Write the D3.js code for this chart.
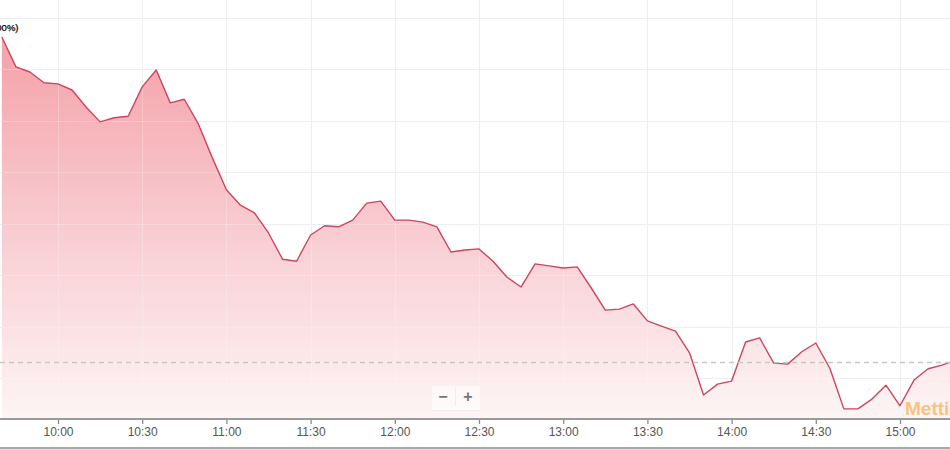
<!DOCTYPE html>
<html>
<head>
<meta charset="utf-8">
<script src="https://cdn.jsdelivr.net/npm/d3@7"></script>
<style>
  html, body { margin: 0; padding: 0; background: #fff; }
  svg { display: block; }
</style>
</head>
<body>
<svg id="chart" width="950" height="450"></svg>
<script>
// ---- Data (5-minute intraday index levels) ----
const times = ["09:40","09:45","09:50","09:55","10:00","10:05","10:10","10:15","10:20","10:25",
  "10:30","10:35","10:40","10:45","10:50","10:55","11:00","11:05","11:10","11:15",
  "11:20","11:25","11:30","11:35","11:40","11:45","11:50","11:55","12:00","12:05",
  "12:10","12:15","12:20","12:25","12:30","12:35","12:40","12:45","12:50","12:55",
  "13:00","13:05","13:10","13:15","13:20","13:25","13:30","13:35","13:40","13:45",
  "13:50","13:55","14:00","14:05","14:10","14:15","14:20","14:25","14:30","14:35",
  "14:40","14:45","14:50","14:55","15:00","15:05","15:10","15:15","15:20"];
const values = [22263,22205,22195,22174,22172,22160,22127,22098,22106,22109,
  22166,22199,22135,22142,22094,22028,21966,21936,21921,21882,
  21831,21827,21878,21896,21894,21907,21940,21944,21907,21907,
  21903,21894,21845,21849,21851,21827,21796,21777,21822,21818,
  21814,21816,21775,21732,21734,21744,21711,21701,21691,21649,
  21567,21588,21594,21670,21678,21629,21627,21651,21668,21619,
  21540,21540,21559,21586,21546,21596,21618,21625,21635];
const previousClose = 21631;
const xTickLabels = ["10:00","10:30","11:00","11:30","12:00","12:30","13:00","13:30","14:00","14:30","15:00"];
const yGridValues = [21600,21700,21800,21900,22000,22100,22200,22300];
const topLabel = "(+1.00%)";
const watermark = "Metti";

// ---- Setup ----
const W = 950, H = 450;
const axisY = 419;
const parse = d3.timeParse("%H:%M");
const data = times.map((t, i) => ({ t: parse(t), v: values[i] }));

const x = d3.scaleTime().domain([parse("10:00"), parse("15:00")]).range([58, 900]);
const y = d3.scaleLinear().domain([21600, 22300]).range([378, 18]);

const svg = d3.select("#chart");
const defs = svg.append("defs");
const grad = defs.append("linearGradient")
  .attr("id", "fillGrad").attr("gradientUnits", "userSpaceOnUse")
  .attr("x1", 0).attr("y1", 30).attr("x2", 0).attr("y2", axisY);
grad.append("stop").attr("offset", 0).attr("stop-color", "#f3979f");
grad.append("stop").attr("offset", 0.55).attr("stop-color", "#f8cbd0");
grad.append("stop").attr("offset", 1).attr("stop-color", "#fdf4f4");

defs.append("clipPath").attr("id", "plotClip")
  .append("rect").attr("x", 0).attr("y", 0).attr("width", W).attr("height", axisY);

// Gridlines
const grid = svg.append("g");
grid.selectAll("line.h").data(yGridValues).enter().append("line")
  .attr("x1", 0).attr("x2", W)
  .attr("y1", d => Math.round(y(d)) + 0.5).attr("y2", d => Math.round(y(d)) + 0.5)
  .attr("stroke", "#e9e9e9").attr("stroke-width", 1);

const tickDates = xTickLabels.map(parse);
grid.selectAll("line.v").data(tickDates).enter().append("line")
  .attr("x1", d => Math.round(x(d)) + 0.5).attr("x2", d => Math.round(x(d)) + 0.5)
  .attr("y1", 0).attr("y2", axisY)
  .attr("stroke", "#e9e9e9").attr("stroke-width", 1);

// Area + line
const plot = svg.append("g").attr("clip-path", "url(#plotClip)");
const area = d3.area().x(d => x(d.t)).y0(axisY).y1(d => y(d.v));
const line = d3.line().x(d => x(d.t)).y(d => y(d.v));

plot.append("path").datum(data).attr("d", area)
  .attr("fill", "url(#fillGrad)").attr("fill-opacity", 0.92);

// faint gridlines over fill
plot.selectAll("line.vo").data(tickDates).enter().append("line")
  .attr("x1", d => Math.round(x(d)) + 0.5).attr("x2", d => Math.round(x(d)) + 0.5)
  .attr("y1", 0).attr("y2", axisY)
  .attr("stroke", "#ffffff").attr("stroke-opacity", 0.25).attr("stroke-width", 1);
plot.selectAll("line.ho").data(yGridValues).enter().append("line")
  .attr("x1", 0).attr("x2", W)
  .attr("y1", d => Math.round(y(d)) + 0.5).attr("y2", d => Math.round(y(d)) + 0.5)
  .attr("stroke", "#ffffff").attr("stroke-opacity", 0.25).attr("stroke-width", 1);

// Previous close dashed line
svg.append("line")
  .attr("x1", 0).attr("x2", W)
  .attr("y1", Math.round(y(previousClose)) + 0.5).attr("y2", Math.round(y(previousClose)) + 0.5)
  .attr("stroke", "#c6c9bd").attr("stroke-width", 1.4).attr("stroke-dasharray", "5,4");

plot.append("path").datum(data).attr("d", line)
  .attr("fill", "none").attr("stroke", "#cc4560").attr("stroke-width", 1.4)
  .attr("stroke-linejoin", "round");

// Watermark
svg.append("text").attr("x", 905).attr("y", 415)
  .attr("font-family", "Liberation Sans, Arial, sans-serif")
  .attr("font-weight", "bold").attr("font-size", 19)
  .attr("fill", "#f7c47c")
  .text(watermark);

// Zoom buttons
const zb = svg.append("g");
zb.append("rect").attr("x", 432).attr("y", 386).attr("width", 48).attr("height", 24)
  .attr("fill", "#ffffff").attr("fill-opacity", 0.55);
zb.append("line").attr("x1", 432).attr("x2", 480).attr("y1", 410.5).attr("y2", 410.5)
  .attr("stroke", "#eeeeee");
zb.append("line").attr("x1", 455.5).attr("x2", 455.5).attr("y1", 388).attr("y2", 406)
  .attr("stroke", "#eeeeee");
zb.append("text").attr("x", 443).attr("y", 402).attr("text-anchor", "middle")
  .attr("font-family", "Liberation Sans, Arial, sans-serif").attr("font-size", 16)
  .attr("font-weight", "bold").attr("fill", "#777").text("\u2212");
zb.append("text").attr("x", 468).attr("y", 402).attr("text-anchor", "middle")
  .attr("font-family", "Liberation Sans, Arial, sans-serif").attr("font-size", 16)
  .attr("font-weight", "bold").attr("fill", "#777").text("+");

// X axis
const xAxis = d3.axisBottom(x).tickValues(tickDates).tickFormat(d3.timeFormat("%H:%M"))
  .tickSize(5).tickSizeOuter(0);
const ax = svg.append("g").attr("transform", `translate(0,${axisY})`).call(xAxis);
ax.select(".domain").remove();
ax.append("line").attr("x1", 0).attr("x2", W).attr("y1", 0).attr("y2", 0)
  .attr("stroke", "#9a9a9a").attr("stroke-width", 2);
ax.selectAll(".tick line").attr("stroke", "#8a8a8a").attr("stroke-width", 1.3);
ax.selectAll(".tick text")
  .attr("font-family", "Liberation Sans, Arial, sans-serif").attr("font-size", 12)
  .attr("fill", "#555").attr("dy", "0.71em").attr("y", 8);

// Bottom border
svg.append("line").attr("x1", 0).attr("x2", W).attr("y1", 448).attr("y2", 448)
  .attr("stroke", "#8c8c8c").attr("stroke-width", 1.5);
svg.append("rect").attr("x", 0).attr("y", 449).attr("width", W).attr("height", 1)
  .attr("fill", "#dddddd");

// Top-left label (partly beyond the left edge, as in the original)
svg.append("text").attr("x", 18.5).attr("y", 31).attr("text-anchor", "end")
  .attr("font-family", "Liberation Sans, Arial, sans-serif").attr("font-size", 9.5)
  .attr("fill", "#000").attr("stroke", "#000").attr("stroke-width", 0.25)
  .text(topLabel);
</script>
</body>
</html>
